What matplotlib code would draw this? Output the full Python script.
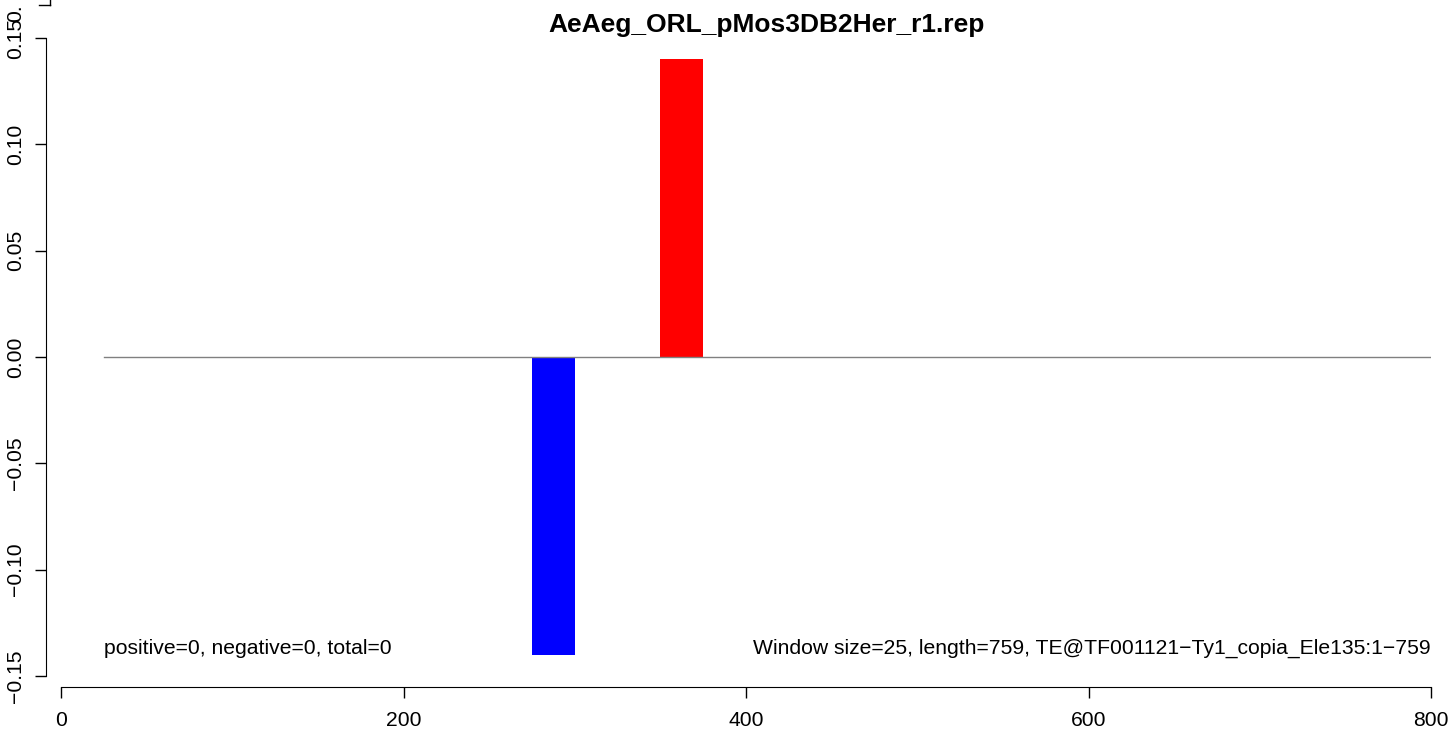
import matplotlib
matplotlib.use('Agg')
import matplotlib.pyplot as plt
from matplotlib.lines import Line2D

plt.rcParams['font.family'] = ['Liberation Sans', 'DejaVu Sans']

# dati
titolo = 'AeAeg_ORL_pMos3DB2Her_r1.rep'
bar_start = [275, 350]
bar_width = [25, 25]
bar_value = [-0.14, 0.14]
bar_color = ['#0000ff', '#ff0000']
base_x = [25, 800]
x_ticks = [0, 200, 400, 600, 800]
y_ticks = [-0.15, -0.10, -0.05, 0.00, 0.05, 0.10, 0.15]
testo_sx = 'positive=0, negative=0, total=0'
testo_dx = 'Window size=25, length=759, TE@TF001121\u2212Ty1_copia_Ele135:1\u2212759'

FS = 15.2
W, H = 1452, 730
fig = plt.figure(figsize=(W / 100, H / 100), dpi=100)
ax = fig.add_axes([61 / W, 1 - 676 / H, (1431 - 61) / W, (676 - 38) / H])
ax.set_xlim(0, 800)
ax.set_ylim(-0.15, 0.15)

ax.plot(base_x, [0, 0], color='#808080', lw=1)
ax.bar(bar_start, bar_value, width=bar_width, color=bar_color, align='edge')

ax.text(base_x[0], -0.137, testo_sx, ha='left', va='center', fontsize=FS)
ax.text(800, -0.137, testo_dx, ha='right', va='center', fontsize=FS)

for s in ['top', 'right']:
    ax.spines[s].set_visible(False)
ax.spines['left'].set_position(('outward', 11))
ax.spines['bottom'].set_position(('outward', 8))
ax.spines['left'].set_bounds(-0.15, 0.15)
ax.spines['bottom'].set_bounds(0, 800)
ax.set_xticks(x_ticks)
ax.set_xticklabels([str(t) for t in x_ticks])
ax.set_yticks(y_ticks)
ax.set_yticklabels(['\u22120.15', '\u22120.10', '\u22120.05', '0.00', '0.05', '0.10', '0.15'],
                   rotation=90, va='center')
ax.tick_params(labelsize=FS, length=8, width=1)
ax.tick_params(axis='x', pad=9)
ax.tick_params(axis='y', pad=7)

# resto di un asse sopra (tagliato nel riferimento)
fig.add_artist(Line2D([50 / W, 50 / W], [1, 1 - 5 / H], color='black', lw=1))
fig.add_artist(Line2D([39 / W, 50 / W], [1 - 5 / H, 1 - 5 / H], color='black', lw=1))
fig.text(16 / W, 1 - 4 / H, '0.', rotation=90, ha='center', va='top', fontsize=FS)

fig.text(767 / W, 1 - 25 / H, titolo, ha='center', va='center', fontsize=19, fontweight='bold')

fig.savefig('out.png', dpi=100)
